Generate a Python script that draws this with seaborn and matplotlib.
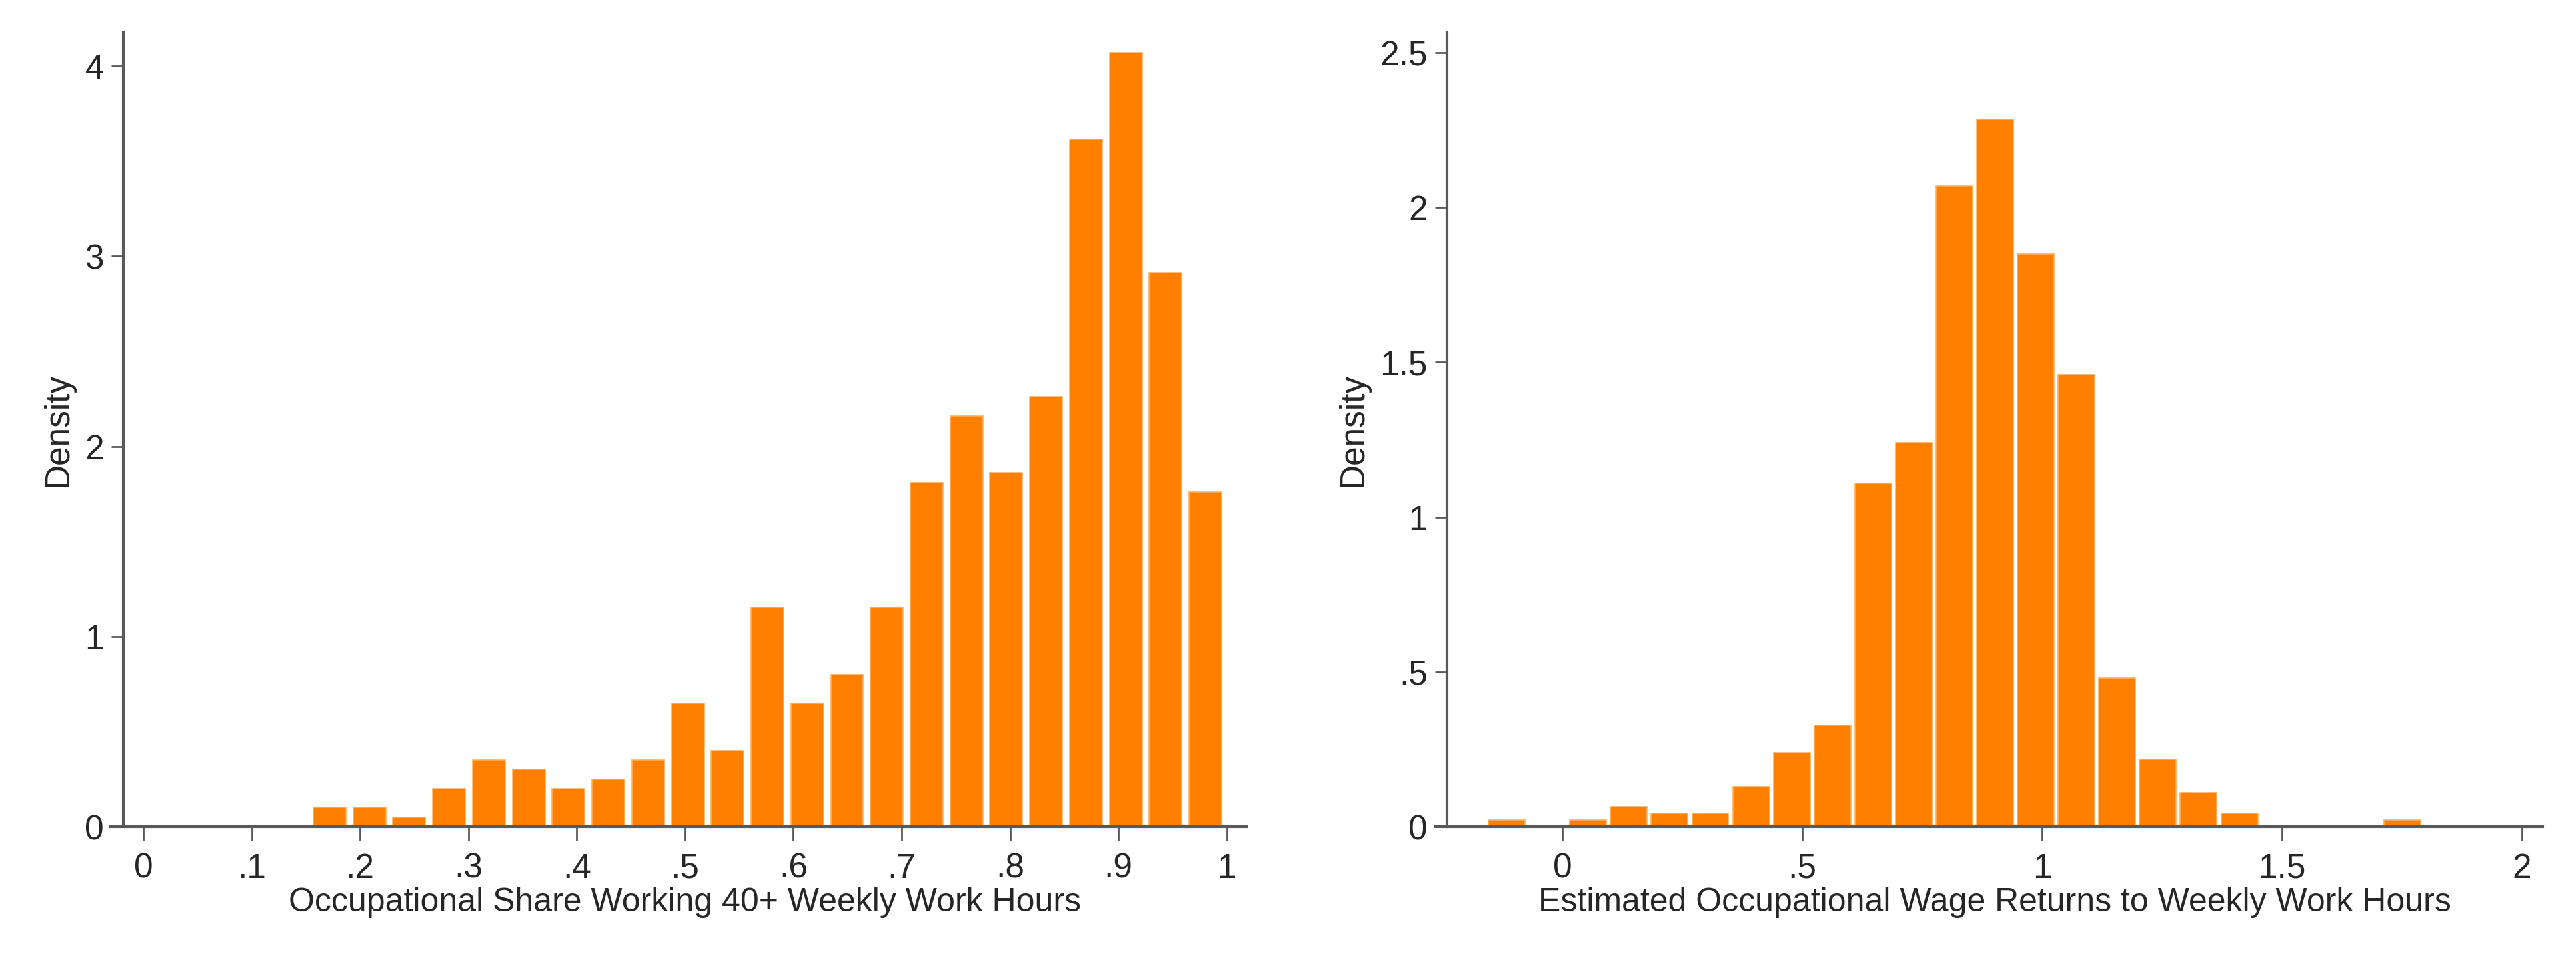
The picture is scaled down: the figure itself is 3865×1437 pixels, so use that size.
import pandas as pd
import seaborn as sns
import matplotlib.pyplot as plt

# left panel: share working 40+ hours, 23 bins
share_lo, share_hi = 0.1535, 0.9986
share_density = [0.10, 0.10, 0.05, 0.20, 0.35, 0.30, 0.20, 0.25, 0.35, 0.65, 0.40, 1.155,
                 0.65, 0.80, 1.155, 1.81, 2.16, 1.86, 2.26, 3.615, 4.07, 2.915, 1.76]
share_xticks = [0, .1, .2, .3, .4, .5, .6, .7, .8, .9, 1]
share_xlabels = ["0", ".1", ".2", ".3", ".4", ".5", ".6", ".7", ".8", ".9", "1"]
share_yticks = [0, 1, 2, 3, 4]
share_ylabels = ["0", "1", "2", "3", "4"]

# right panel: estimated wage returns, 23 bins
ret_lo, ret_hi = -0.1583, 1.7929
ret_density = [0.022, 0.0, 0.022, 0.065, 0.043, 0.043, 0.13, 0.24, 0.327, 1.11, 1.24, 2.07,
               2.285, 1.85, 1.46, 0.48, 0.217, 0.109, 0.043, 0.0, 0.0, 0.0, 0.022]
ret_xticks = [0, .5, 1, 1.5, 2]
ret_xlabels = ["0", ".5", "1", "1.5", "2"]
ret_yticks = [0, .5, 1, 1.5, 2, 2.5]
ret_ylabels = ["0", ".5", "1", "1.5", "2", "2.5"]

sns.set_style("ticks")
plt.rcParams['font.family'] = ['Liberation Sans', 'DejaVu Sans']

W, H = 3865, 1437
fig = plt.figure(figsize=(W / 100, H / 100), dpi=100)

orange = "#FF7F00"
axcol = "#595959"
TOP, BOT = 48, 1240  # plot region in pixels


def panel(x0, x1, lo, hi, dens, shrink, xlim, spine_x, ylim, xt, xl, yt, yl,
          xlabel, xlab_x, ylab_x):
    ax = fig.add_axes([x0 / W, 1 - BOT / H, (x1 - x0) / W, (BOT - TOP) / H])
    n = len(dens)
    w = (hi - lo) / n
    df = pd.DataFrame({"x": [lo + w * (i + 0.5) for i in range(n)], "w": dens})
    sns.histplot(data=df, x="x", weights="w", bins=n, binrange=(lo, hi), stat="count",
                 shrink=shrink, color=orange, alpha=1, edgecolor="#FFB060", linewidth=1.2, ax=ax)
    ax.set_xlim(*xlim)
    ax.set_ylim(*ylim)
    ax.spines['top'].set_visible(False)
    ax.spines['right'].set_visible(False)
    ax.spines['left'].set_position(('data', spine_x))
    for s in ['left', 'bottom']:
        ax.spines[s].set_color(axcol)
        ax.spines[s].set_linewidth(3)
    ax.set_xticks(xt)
    ax.set_xticklabels(xl)
    ax.set_yticks(yt)
    ax.set_yticklabels(yl)
    ax.tick_params(axis='x', length=15, width=2, color=axcol, pad=13, labelsize=37)
    ax.tick_params(axis='y', length=13, width=2, color=axcol, pad=8, labelsize=37)
    ax.set_xlabel(xlabel, fontsize=36)
    ax.xaxis.set_label_coords(xlab_x, -0.0763)
    ax.set_ylabel("Density", fontsize=37)
    ax.yaxis.set_label_coords(ylab_x, 0.5)
    return ax


panel(165, 1870, share_lo, share_hi, share_density, 0.82,
      (-0.0308, 1.018), -0.01845, (0, 4.179),
      share_xticks, share_xlabels, share_yticks, share_ylabels,
      "Occupational Share Working 40+ Weekly Work Hours", 0.506, -0.031)

panel(2153, 3815, ret_lo, ret_hi, ret_density, 0.9,
      (-0.2653, 2.043), -0.2403, (0, 2.567),
      ret_xticks, ret_xlabels, ret_yticks, ret_ylabels,
      "Estimated Occupational Wage Returns to Weekly Work Hours", 0.5054, -0.059)

fig.savefig("out.png", dpi=100, facecolor="white")
